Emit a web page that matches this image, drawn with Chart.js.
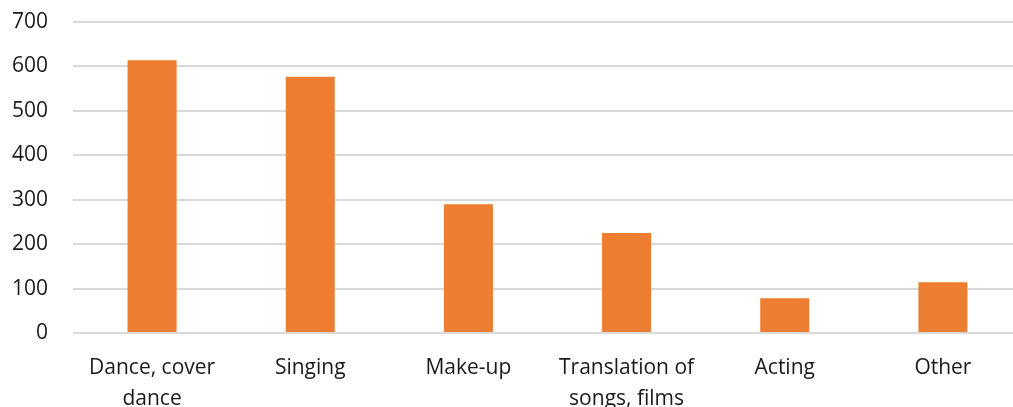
<!DOCTYPE html>
<html>
<head>
<meta charset="utf-8">
<script src="https://cdn.jsdelivr.net/npm/chart.js@4/dist/chart.umd.min.js"></script>
<style>
  html, body { margin: 0; padding: 0; background: #fff; overflow: hidden; }
  #wrap { position: relative; width: 1022px; height: 407px; }
</style>
</head>
<body>
<div id="wrap"><canvas id="c"></canvas></div>
<script>
// Categories and counts
const categories = [
  ["Dance, cover", "dance"],
  "Singing",
  "Make-up",
  ["Translation of", "songs, films"],
  "Acting",
  "Other"
];
const counts = [614, 577, 290, 225, 78, 114];
const yMax = 700;
const yStep = 100;

const textColor = "#1a1a1a";
const fontFamily = "'Open Sans', 'Noto Sans', sans-serif";

new Chart(document.getElementById("c"), {
  type: "bar",
  data: {
    labels: categories,
    datasets: [{
      data: counts,
      backgroundColor: "#ED7D31",
      borderWidth: 0,
      barPercentage: 0.31,
      categoryPercentage: 1.0
    }]
  },
  options: {
    responsive: true,
    maintainAspectRatio: false,
    animation: false,
    layout: { padding: 0 },
    plugins: {
      legend: { display: false },
      tooltip: { enabled: false }
    },
    scales: {
      x: {
        grid: { display: false, drawTicks: false },
        border: { display: false },
        afterFit: (s) => { s.height = 74; s.paddingLeft = 0; s.paddingRight = 0; },
        ticks: {
          color: textColor,
          font: { family: fontFamily, size: 21, lineHeight: 1.45 },
          padding: 20,
          maxRotation: 0,
          autoSkip: false
        }
      },
      y: {
        min: 0,
        max: yMax,
        grid: { color: "#d9d9d9", lineWidth: 2, drawTicks: false },
        border: { display: false },
        afterFit: (s) => { s.width = 73; s.paddingTop = 22; s.paddingBottom = 0; },
        ticks: {
          stepSize: yStep,
          color: textColor,
          font: { family: fontFamily, size: 21 },
          padding: 25
        }
      }
    }
  }
});
</script>
</body>
</html>
